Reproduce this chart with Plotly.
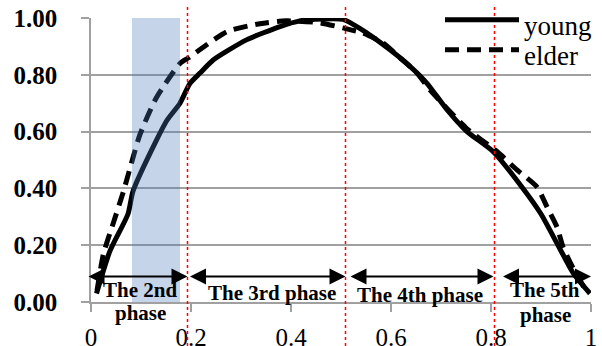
import plotly.graph_objects as go

# ---- data ----
young_x = [0.011, 0.038, 0.074, 0.084, 0.131, 0.152, 0.178, 0.198, 0.218, 0.245, 0.311, 0.378, 0.418,
           0.445, 0.504, 0.552, 0.598, 0.638, 0.672, 0.712, 0.752, 0.804, 0.864, 0.900, 0.934, 0.965, 0.998]
young_y = [0.03, 0.18, 0.31, 0.39, 0.57, 0.64, 0.70, 0.77, 0.806, 0.853, 0.923, 0.97, 0.99,
           0.995, 0.995, 0.947, 0.888, 0.83, 0.77, 0.677, 0.60, 0.53, 0.40, 0.31, 0.20, 0.10, 0.03]

elder_x = [0.012, 0.025, 0.045, 0.065, 0.098, 0.131, 0.178, 0.195, 0.272, 0.338, 0.39, 0.458, 0.504,
           0.544, 0.584, 0.618, 0.652, 0.678, 0.752, 0.812, 0.852, 0.892, 0.912, 0.932, 0.944, 0.964, 0.99]
elder_y = [0.04, 0.17, 0.28, 0.39, 0.59, 0.72, 0.84, 0.86, 0.952, 0.98, 0.99, 0.983, 0.965,
           0.947, 0.912, 0.86, 0.806, 0.747, 0.61, 0.53, 0.465, 0.405, 0.335, 0.264, 0.194, 0.12, 0.04]

series_names = ["young", "elder"]
x_ticks = [0, 0.2, 0.4, 0.6, 0.8, 1.0]
x_tick_labels = ["0", "0.2", "0.4", "0.6", "0.8", "1"]
y_ticks = [0, 0.2, 0.4, 0.6, 0.8, 1.0]
y_tick_labels = ["0.00", "0.20", "0.40", "0.60", "0.80", "1.00"]

phase_bounds = [0.193, 0.509, 0.807]          # red dotted lines
highlight_band = [0.082, 0.178]               # shaded 2nd-phase band
arrow_y = 0.09
arrow_spans = [(-0.008, 0.193), (0.195, 0.509), (0.516, 0.805), (0.821, 1.0)]
phase_labels = [("The 2nd", 0.098, 0.041), ("phase", 0.098, -0.040),
                ("The 3rd phase", 0.362, 0.032), ("The 4th phase", 0.658, 0.024),
                ("The 5th", 0.908, 0.041), ("phase", 0.908, -0.047)]

SERIF = "Times New Roman, Liberation Serif, serif"
DASH = "14px,8px"

fig = go.Figure()
fig.add_trace(go.Scatter(x=young_x, y=young_y, mode="lines", name=series_names[0],
                         line=dict(color="black", width=5, shape="spline", smoothing=0.6)))
fig.add_trace(go.Scatter(x=elder_x, y=elder_y, mode="lines", name=series_names[1],
                         line=dict(color="black", width=5, dash=DASH, shape="spline", smoothing=0.6)))

shapes = []
shapes.append(dict(type="rect", xref="x", yref="y", x0=highlight_band[0], x1=highlight_band[1],
                   y0=0, y1=1, fillcolor="rgba(75,120,185,0.32)", line=dict(width=0), layer="above"))
for b in phase_bounds:
    shapes.append(dict(type="line", xref="x", yref="paper", x0=b, x1=b, y0=-0.155, y1=1.042,
                       line=dict(color="red", width=1.5, dash="dot"), layer="above"))

# custom legend samples
shapes.append(dict(type="line", xref="paper", yref="paper", x0=0.708, x1=0.856, y0=0.994, y1=0.994,
                   line=dict(color="black", width=5)))
shapes.append(dict(type="line", xref="paper", yref="paper", x0=0.708, x1=0.856, y0=0.888, y1=0.888,
                   line=dict(color="black", width=5, dash=DASH)))

annotations = []
for a0, a1 in arrow_spans:
    annotations.append(dict(x=a1, y=arrow_y, ax=a0, ay=arrow_y, xref="x", yref="y", axref="x", ayref="y",
                            text="", showarrow=True, arrowhead=2, startarrowhead=2, arrowside="end+start",
                            arrowsize=1.6, startarrowsize=1.6, arrowwidth=2, arrowcolor="black"))
for txt, tx, ty in phase_labels:
    # y range is [0, 1] on a full-height domain, so paper y equals data y here
    annotations.append(dict(x=tx, y=ty, xref="x", yref="paper", text=txt, showarrow=False,
                            xanchor="center", yanchor="middle",
                            font=dict(family=SERIF, size=21, color="black", weight="bold")))
annotations.append(dict(x=0.862, y=0.973, xref="paper", yref="paper", text=series_names[0], showarrow=False,
                        xanchor="left", yanchor="middle", font=dict(family=SERIF, size=27, color="black")))
annotations.append(dict(x=0.862, y=0.867, xref="paper", yref="paper", text=series_names[1], showarrow=False,
                        xanchor="left", yanchor="middle", font=dict(family=SERIF, size=27, color="black")))

fig.update_layout(
    template="none",
    width=602, height=346,
    margin=dict(l=91, r=11, t=18, b=44, autoexpand=False),
    paper_bgcolor="white", plot_bgcolor="white",
    showlegend=False,
    shapes=shapes, annotations=annotations,
    xaxis=dict(range=[0, 1], tickvals=x_ticks, ticktext=x_tick_labels, showgrid=False, zeroline=False,
               automargin=False,
               showline=True, linecolor="#a0a0a0", linewidth=1.5, ticks="outside", ticklen=8,
               tickwidth=1.5, tickcolor="#a0a0a0", ticklabelstandoff=4,
               tickfont=dict(family=SERIF, size=25, color="black")),
    yaxis=dict(range=[0, 1], tickvals=y_ticks, ticktext=y_tick_labels, showgrid=True, gridcolor="#a0a0a0",
               gridwidth=1.5, zeroline=False, showline=True, linecolor="#a0a0a0", linewidth=1.5,
               automargin=False,
               ticks="outside", ticklen=8, tickwidth=1.5, tickcolor="#a0a0a0", ticklabelstandoff=19,
               tickfont=dict(family=SERIF, size=25, color="black", weight="bold")),
)

fig.write_html("out.html", config={"displayModeBar": False},
               post_script="document.body.style.margin='0px';document.body.style.overflow='hidden';")
